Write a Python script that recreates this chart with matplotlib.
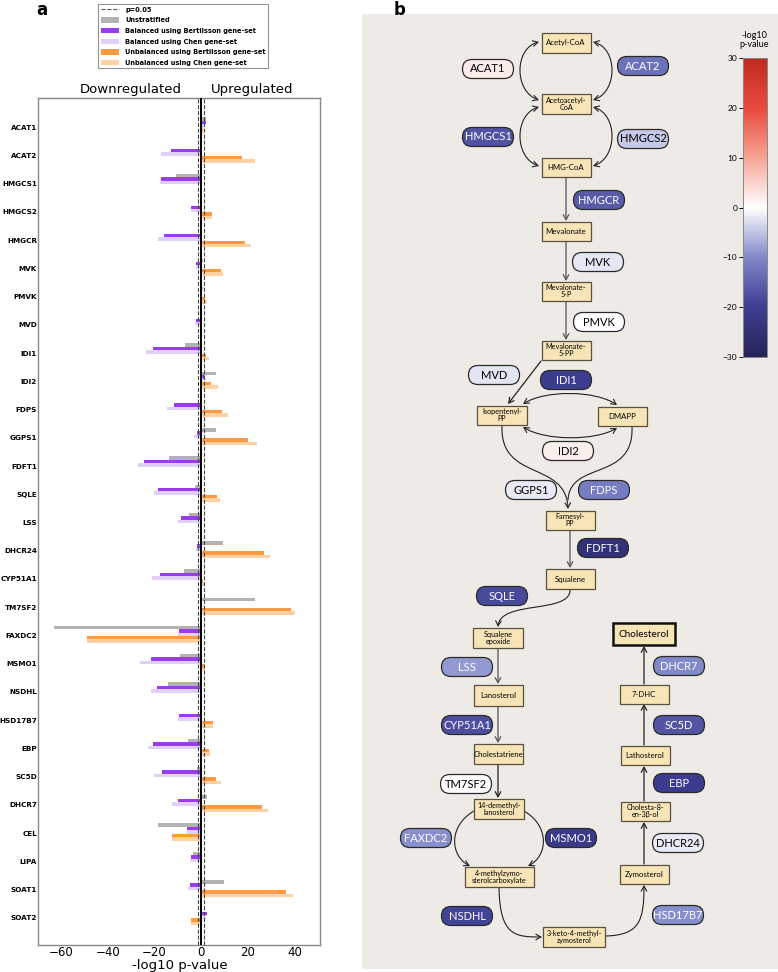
import numpy as np
import matplotlib
matplotlib.use("Agg")
import matplotlib.pyplot as plt
from matplotlib.patches import Patch, FancyBboxPatch, Rectangle, FancyArrowPatch
from matplotlib.lines import Line2D
from matplotlib.path import Path
from matplotlib.colors import LinearSegmentedColormap, Normalize
from matplotlib.cm import ScalarMappable

# ---------------- data ----------------
genes = ['ACAT1', 'ACAT2', 'HMGCS1', 'HMGCS2', 'HMGCR', 'MVK', 'PMVK', 'MVD', 'IDI1',
         'IDI2', 'FDPS', 'GGPS1', 'FDFT1', 'SQLE', 'LSS', 'DHCR24', 'CYP51A1', 'TM7SF2',
         'FAXDC2', 'MSMO1', 'NSDHL', 'HSD17B7', 'EBP', 'SC5D', 'DHCR7', 'CEL', 'LIPA',
         'SOAT1', 'SOAT2']
unstratified = [2, 0, -11, 0, 0, 1, 1, 0, -7, 6.3, 0, 6.5, -14, -2.7, -5, 9.3, -7.5, 23,
                -63, -9, -14.3, 0, -5.5, -1.8, 2.4, -18.5, -3.3, 10, 0]
balanced_bertilsson = [2, -13, -17.3, -4.5, -16, -2, 0, -2.3, -20.7, 1.8, -11.6, -1.8,
                       -24.6, -18.5, -8.6, -1.8, -17.7, 0, -9.6, -21.6, -19, -9.6, -20.7,
                       -16.8, -10, -6.2, -4.3, -4.8, 2.3]
balanced_chen = [1.3, -17.3, -17.7, -4.2, -18.6, -2.4, 0, -2.8, -23.7, 0.8, -14.5, -3,
                 -27.2, -20.2, -10, -2.2, -21.2, 0, -10, -26.2, -21.3, -10, -22.7, -20.4,
                 -12.5, -6, -4.6, -5.6, 2.1]
unbalanced_bertilsson = [0.8, 17.4, 0, 4.8, 18.9, 8.5, 1.8, 0, 2, 4.2, 8.8, 19.9, 0, 6.6,
                         0, 26.9, 0.8, 38.7, -48.8, 1.1, 0, 4.9, 3.2, 6.2, 25.9, -12.6, 0,
                         36.6, -4.5]
unbalanced_chen = [0.8, 22.9, 0, 4.8, 21.4, 9.3, 2.4, 0, 3.2, 7.2, 11.5, 23.9, 0, 8.2, 0,
                   29.4, 1.2, 40.3, -48.8, 1.7, -0.5, 5.2, 3.9, 8.5, 28.6, -12.6, 0, 39.3,
                   -4.5]
series_labels = ['Unstratified', 'Balanced using Bertilsson gene-set',
                 'Balanced using Chen gene-set', 'Unbalanced using Bertilsson gene-set',
                 'Unbalanced using Chen gene-set']
p_threshold = 0.05
xticks = [-60, -40, -20, 0, 20, 40]
cbar_ticks = [-30, -20, -10, 0, 10, 20, 30]

# ---------------- figure ----------------
W, H = 778, 972
fig = plt.figure(figsize=(W / 100, H / 100), dpi=100)
fig.patch.set_facecolor('white')

# ---------------- panel a ----------------
colors = ['#b2b2b2', '#9a3cee', '#e0d0f8', '#ff9a42', '#ffd0a2']
series = [unstratified, balanced_bertilsson, balanced_chen, unbalanced_bertilsson,
          unbalanced_chen]
offsets = [-0.28, -0.16, -0.04, 0.08, 0.20]
ax = fig.add_axes([38 / W, 1 - 945 / H, (320 - 38) / W, (945 - 98) / H])
y = np.arange(len(genes))
for vals, c, off, lab in zip(series, colors, offsets, series_labels):
    ax.barh(y + off, vals, height=0.125, color=c, label=lab, zorder=2)
thr = -np.log10(p_threshold)
ax.axvline(0, color='black', lw=1.4, zorder=3)
ax.axvline(thr, color='#444444', lw=0.8, ls='--', zorder=3)
ax.axvline(-thr, color='#444444', lw=0.8, ls='--', zorder=3)
ax.set_xlim(-70, 51)
ax.set_ylim(len(genes) - 0.04, -1.03)
ax.set_yticks(y)
ax.set_yticklabels(genes, fontsize=5.2, fontweight='bold')
ax.set_xticks(xticks)
ax.set_xticklabels([f'{t}'.replace('-', '\u2212') for t in xticks], fontsize=8.5)
ax.tick_params(axis='y', length=0, pad=0.8)
ax.tick_params(axis='x', length=0, pad=1)
for s in ax.spines.values():
    s.set_color('#888888')
    s.set_linewidth(1.0)
fig.text(180 / W, 1 - 965.5 / H, '-log10 p-value', ha='center', va='center', fontsize=9.5)

fig.text(131 / W, 1 - 89 / H, 'Downregulated', ha='center', va='center', fontsize=9.5)
fig.text(252 / W, 1 - 89 / H, 'Upregulated', ha='center', va='center', fontsize=9.5)
fig.text(42 / W, 1 - 10 / H, 'a', ha='center', va='center', fontsize=12, fontweight='bold')

handles = [Line2D([0], [0], ls='--', color='#555555', lw=0.8)] + \
          [Patch(facecolor=c, edgecolor='none') for c in colors]
labels = [f'p={p_threshold}'] + series_labels
leg = fig.legend(handles, labels, loc='upper left', bbox_to_anchor=(95 / W, 1 - 1 / H),
                 prop={'weight': 'bold', 'size': 4.8}, frameon=True,
                 fancybox=False, edgecolor='#777777', handlelength=2.8, handleheight=0.8,
                 labelspacing=0.7, borderpad=0.35, handletextpad=0.9)
leg.get_frame().set_linewidth(0.8)

# ---------------- panel b ----------------
fig.text(400 / W, 1 - 10 / H, 'b', ha='center', va='center', fontsize=12, fontweight='bold')
bx0, bx1, by0, by1 = 362, 778, 14, 969
axb = fig.add_axes([bx0 / W, 1 - by1 / H, (bx1 - bx0) / W, (by1 - by0) / H])
axb.set_xlim(bx0, bx1)
axb.set_ylim(by1, by0)
axb.axis('off')
axb.add_patch(Rectangle((bx0, by0), bx1 - bx0, by1 - by0, facecolor='#eeeae5',
                        edgecolor='none', zorder=0))

cmap = LinearSegmentedColormap.from_list('pv', [
    (0.0, '#262359'), (0.17, '#3f3f94'), (0.33, '#7f87c8'), (0.5, '#ffffff'),
    (0.67, '#f6a293'), (0.83, '#e84c3e'), (1.0, '#c02a20')])
norm = Normalize(-30, 30)

FONT = ['Lato', 'DejaVu Sans']

metabolites = [
    ('Acetyl-CoA', 566, 43, 49, 20),
    ('Acetoacetyl-\nCoA', 566, 104, 49, 20),
    ('HMG-CoA', 566, 168, 49, 19),
    ('Mevalonate', 566, 231, 49, 19),
    ('Mevalonate-\n5-P', 566, 291, 49, 19),
    ('Mevalonate-\n5-PP', 566, 350, 49, 19),
    ('Isopentenyl-\nPP', 502, 415, 50, 19),
    ('DMAPP', 622, 416, 49, 19),
    ('Farnesyl-\nPP', 570, 520, 49, 19),
    ('Squalene', 570, 579, 49, 20),
    ('Squalene\nepoxide', 498, 638, 50, 20),
    ('Lanosterol', 498, 695, 49, 21),
    ('Cholestatriene', 498, 754, 49, 20),
    ('14-demethyl-\nlanosterol', 499, 809, 50, 20),
    ('4-methylzymo-\nsterolcarboxylate', 499, 877, 69, 20),
    ('3-keto-4-methyl-\nzymosterol', 574, 937, 62, 20),
    ('Zymosterol', 644, 874, 49, 19),
    ('Cholesta-8-\nen-3\u03b2-ol', 645, 811, 49, 19),
    ('Lathosterol', 645, 755, 49, 19),
    ('7-DHC', 644, 694, 49, 19),
]
for txt, cx, cy, w, h in metabolites:
    axb.add_patch(Rectangle((cx - w / 2, cy - h / 2), w, h, facecolor='#f7e5b8',
                            edgecolor='#5a5040', lw=0.9, zorder=3))
    fs = 5.6 if '\n' not in txt else 5.2
    axb.text(cx, cy, txt, ha='center', va='center', fontsize=fs, family=FONT,
             linespacing=1.0, zorder=4)
# Cholesterol (end product)
axb.add_patch(Rectangle((644 - 31, 634 - 11), 62, 22, facecolor='#f7e5b8',
                        edgecolor='#111111', lw=1.8, zorder=3))
axb.text(644, 634, 'Cholesterol', ha='center', va='center', fontsize=7.2, family=FONT,
         zorder=4)

pill_pos = {
    'ACAT1': (488, 69), 'ACAT2': (643, 66), 'HMGCS1': (488, 137), 'HMGCS2': (643, 139),
    'HMGCR': (599, 200), 'MVK': (598, 262), 'PMVK': (599, 322), 'MVD': (494, 375),
    'IDI1': (566, 380), 'IDI2': (568, 451), 'GGPS1': (531, 490), 'FDPS': (604, 490),
    'FDFT1': (603, 548), 'SQLE': (502, 596), 'LSS': (467, 667), 'CYP51A1': (467, 725),
    'TM7SF2': (466, 784), 'FAXDC2': (426, 838), 'MSMO1': (571, 838), 'NSDHL': (467, 916),
    'HSD17B7': (678, 915), 'DHCR24': (678, 843), 'EBP': (679, 783), 'SC5D': (679, 725),
    'DHCR7': (679, 666),
}
pw, ph = 51, 19
for g, (cx, cy) in pill_pos.items():
    v = balanced_bertilsson[genes.index(g)]
    fc = cmap(norm(v))
    axb.add_patch(FancyBboxPatch((cx - pw / 2, cy - ph / 2), pw, ph,
                                 boxstyle='round,pad=0,rounding_size=9.5',
                                 facecolor=fc, edgecolor='#2a2a2a', lw=0.9, zorder=3))
    tc = 'white' if v < -8 else 'black'
    axb.text(cx, cy, g, ha='center', va='center', fontsize=8, family=FONT, color=tc,
             zorder=4)

AS = '->,head_length=0.45,head_width=0.25'


def straight(p0, p1, color='#555555', style=AS):
    axb.add_patch(FancyArrowPatch(p0, p1, arrowstyle=style, mutation_scale=8, lw=0.9,
                                  color=color, shrinkA=0, shrinkB=0, zorder=2))


def curve(pts, style=AS, color='#222222'):
    path = Path(pts, [Path.MOVETO, Path.CURVE4, Path.CURVE4, Path.CURVE4])
    axb.add_patch(FancyArrowPatch(path=path, arrowstyle=style, mutation_scale=8, lw=0.8,
                                  color=color, zorder=2))


DBL = '<->,head_length=0.45,head_width=0.25'
# Acetyl-CoA <-> Acetoacetyl-CoA
curve([(539, 42), (514, 48), (514, 92), (539, 100)], DBL)
curve([(593, 42), (618, 48), (618, 92), (593, 100)], DBL)
# Acetoacetyl-CoA <-> HMG-CoA
curve([(539, 107), (514, 114), (514, 158), (539, 166)], DBL)
curve([(593, 107), (618, 114), (618, 158), (593, 166)], DBL)
straight((566, 178), (566, 221))
straight((566, 241), (566, 281))
straight((566, 301), (566, 340))
straight((541, 361), (508, 404), color='#222222')
# IPP <-> DMAPP
curve([(523, 404), (545, 390), (595, 390), (617, 405)], DBL)
curve([(523, 427), (545, 441), (595, 441), (617, 428)], DBL)
# to Farnesyl-PP
curve([(502, 426), (500, 482), (566, 460), (568, 509)])
curve([(632, 427), (634, 482), (570, 460), (568, 500)], '-')
straight((570, 531), (570, 568))
curve([(570, 590), (570, 614), (500, 600), (498, 627)])
straight((498, 649), (498, 684))
straight((498, 706), (498, 743))
straight((498, 765), (498, 798), color='#222222')
# 14-demethyl -> 4-methylzymo
curve([(474, 811), (448, 826), (450, 856), (470, 866)])
curve([(524, 811), (550, 826), (548, 856), (528, 866)])
curve([(499, 888), (500, 936), (515, 937), (542, 937)])
curve([(606, 936), (640, 935), (644, 920), (644, 885)])
straight((644, 864), (644, 822), color='#222222')
straight((644, 801), (644, 766), color='#222222')
straight((644, 745), (644, 704), color='#222222')
straight((644, 684), (644, 646), color='#222222')

# colorbar
cax = fig.add_axes([743 / W, 1 - 357 / H, 24 / W, 299 / H])
cb = fig.colorbar(ScalarMappable(norm=norm, cmap=cmap), cax=cax, ticks=cbar_ticks)
cax.yaxis.set_ticks_position('left')
cax.tick_params(labelsize=6, length=3, width=0.7, pad=1)
cb.outline.set_edgecolor('#888888')
cb.outline.set_linewidth(0.7)
for t in cax.get_yticklabels():
    t.set_family(FONT)
fig.text(754 / W, 1 - 40 / H, '-log10\np-value', ha='center', va='center', fontsize=6.5,
         family=FONT, linespacing=1.1)

fig.savefig('out.png', dpi=100)
